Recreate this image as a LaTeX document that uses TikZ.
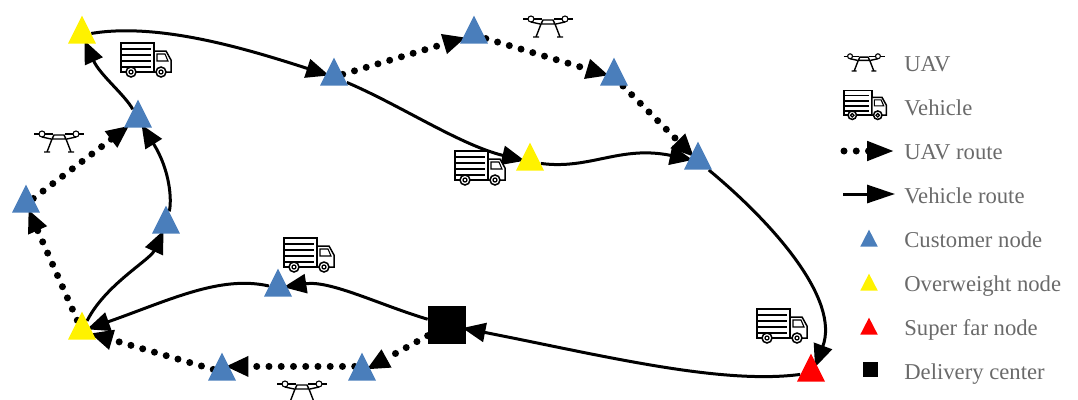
\documentclass[tikz,border=0pt]{standalone}
\usepackage{fontspec}
\setmainfont{Liberation Serif}
\usetikzlibrary{arrows.meta,shapes.geometric,backgrounds}
\definecolor{custblue}{RGB}{74,126,187}
\definecolor{legtext}{RGB}{106,106,106}
\tikzset{
	tri/.style={isosceles triangle,isosceles triangle apex angle=53,isosceles triangle stretches,shape border rotate=90,anchor=lower side,draw=none,inner sep=0pt,minimum width=0.56cm,minimum height=0.56cm},
	customer/.style={tri,fill=custblue},
	overweight/.style={tri,fill=yellow},
	superfar/.style={tri,fill=red},
	smalltri/.style={minimum width=0.35cm,minimum height=0.34cm},
	center/.style={rectangle,fill=black,inner sep=0pt,minimum size=0.76cm},
	vehroute/.style={line width=0.06cm,shorten >=-0.08cm,-{Triangle[length=0.46cm,width=0.38cm]}},
	uavroute/.style={line width=0.14cm,line cap=round,dash pattern=on 0pt off 0.245cm,shorten >=-0.08cm,-{Triangle[length=0.46cm,width=0.38cm,line cap=butt]}},
	legtxt/.style={anchor=base west,text=legtext,font=\fontsize{12.9}{15}\selectfont,inner sep=0pt},
	truck/.pic={
		\draw[line width=0.03cm,fill=white] (-25,-17) rectangle (8,12);
		\draw[line width=0.03cm,fill=white] (8,-9) -- (20,-9) -- (25,0) -- (25,12) -- (8,12) -- cycle;
		\draw[line width=0.022cm] (11,-6) -- (19,-6) -- (22,1) -- (11,1) -- cycle;
		\foreach \yy in {-11,-5,1,7}
			\draw[line width=0.03cm] (-25,\yy) -- (5,\yy);
		\foreach \xx in {-15,15}{
			\draw[line width=0.03cm,fill=white] (\xx,12) circle (5);
			\draw[line width=0.025cm] (\xx,12) circle (2);
		}
	},
	drone/.pic={
		\draw[line width=0.028cm] (-25,-7) -- (-6,-7) (6,-7) -- (25,-7);
		\draw[line width=0.022cm,fill=white] (-17,-7) circle (3) (17,-7) circle (3);
		\draw[line width=0.028cm] (-17,-4) -- (-8,-2) (17,-4) -- (8,-2);
		\draw[line width=0.028cm] (-7,-2) -- (-5,-6) -- (5,-6) -- (7,-2) -- cycle;
		\draw[line width=0.028cm] (-7,-2) -- (-12,11) (-15,11) -- (-9,11);
		\draw[line width=0.028cm] (7,-2) -- (12,11) (9,11) -- (15,11);
	}
}
\begin{document}
\begin{tikzpicture}[x=0.02cm,y=-0.02cm]
	\useasboundingbox (0,0) rectangle (1078,399);
	\clip (0,0) rectangle (1078,399);
%%%%%%%%%%%%%%%%%%%%%%%%%%%%%%%%%%%%%%%%%%%%%%%%%%%%%%%%%%%%
	\node[overweight] (A) at (82,44) {};
	\node[customer] (B) at (138,128) {};
	\node[customer] (C) at (166,234) {};
	\node[customer] (D) at (26,213) {};
	\node[overweight] (E) at (82,340) {};
	\node[customer] (F) at (278,297) {};
	\node[customer] (G) at (222,381) {};
	\node[customer] (H) at (362,381) {};
	\node[center] (I) at (447,325) {};
	\node[superfar] (J) at (811,382) {};
	\node[customer] (K) at (698,170) {};
	\node[overweight] (L) at (530,171) {};
	\node[customer] (M) at (334,86) {};
	\node[customer] (N) at (474,44) {};
	\node[customer] (O) at (614,86) {};
%%%%%%%%%%%%%%%%%%%%%%%%%%%%%%%%%%%%%%%%%%%%%%%%%%%%%%%%%%%%
	\begin{pgfonlayer}{background}
	\draw[vehroute] (J) .. controls (720,385) and (600,355) .. (I);
	\draw[vehroute] (A) .. controls (160,22) and (250,50) .. (M);
	\draw[vehroute] (M) .. controls (400,105) and (460,145) .. (L);
	\draw[vehroute] (L) .. controls (590,170) and (620,145) .. (K);
	\draw[vehroute] (K) .. controls (775,225) and (840,300) .. (J.60);
	\draw[vehroute] (C) .. controls (172,200) and (170,170) .. (B);
	\draw[vehroute] (B) .. controls (125,95) and (100,75) .. (A);
	\draw[vehroute] (E) .. controls (105,285) and (150,260) .. (C);
	\draw[vehroute] (I) .. controls (380,305) and (330,280) .. (F);
	\draw[vehroute] (F) .. controls (220,275) and (170,300) .. (E);
	\draw[uavroute] (I) -- (H);
	\draw[uavroute] (H.left side) -- (G.right side);
	\draw[uavroute] (G) -- (E);
	\draw[uavroute] (E) -- (D);
	\draw[uavroute] (D) -- (B);
	\draw[uavroute] (M) -- (N);
	\draw[uavroute] (N) -- (O);
	\draw[uavroute] (O) -- (K);
	\end{pgfonlayer}
%%%%%%%%%%%%%%%%%%%%%%%%%%%%%%%%%%%%%%%%%%%%%%%%%%%%%%%%%%%%
	\pic at (146,60) {truck};
	\pic at (480,168) {truck};
	\pic at (309,255) {truck};
	\pic at (782,326) {truck};
	\pic at (59,141) {drone};
	\pic at (548,26) {drone};
	\pic at (302,391) {drone};
%%%%%%%%%%%%%%%%%%%%%%%%%%%%%%%%%%%%%%%%%%%%%%%%%%%%%%%%%%%%
	\pic[scale=0.82] at (864,62) {drone};
	\pic[scale=0.85] at (865,105) {truck};
	\coordinate (P1) at (844,151);
	\coordinate (P2) at (895,151);
	\coordinate (Q1) at (843,194);
	\coordinate (Q2) at (895,194);
	\draw[uavroute,shorten >=0pt,-{Triangle[length=0.56cm,width=0.36cm,line cap=butt]}] (P1) -- (P2);
	\draw[vehroute,shorten >=0pt,-{Triangle[length=0.56cm,width=0.36cm]}] (Q1) -- (Q2);
	\node[customer,smalltri] (LC) at (869,247) {};
	\node[overweight,smalltri] (LO) at (869,291) {};
	\node[superfar,smalltri] (LS) at (869,335) {};
	\node[center,minimum size=0.3cm] (LD) at (870,369.5) {};
	\node[legtxt] (T1) at (904,71.5) {UAV};
	\node[legtxt] (T2) at (904,115.5) {Vehicle};
	\node[legtxt] (T3) at (904,159.5) {UAV route};
	\node[legtxt] (T4) at (904,203) {Vehicle route};
	\node[legtxt] (T5) at (904,247) {Customer node};
	\node[legtxt] (T6) at (904,291) {Overweight node};
	\node[legtxt] (T7) at (904,335) {Super far node};
	\node[legtxt] (T8) at (904,379) {Delivery center};
\end{tikzpicture}
\end{document}
